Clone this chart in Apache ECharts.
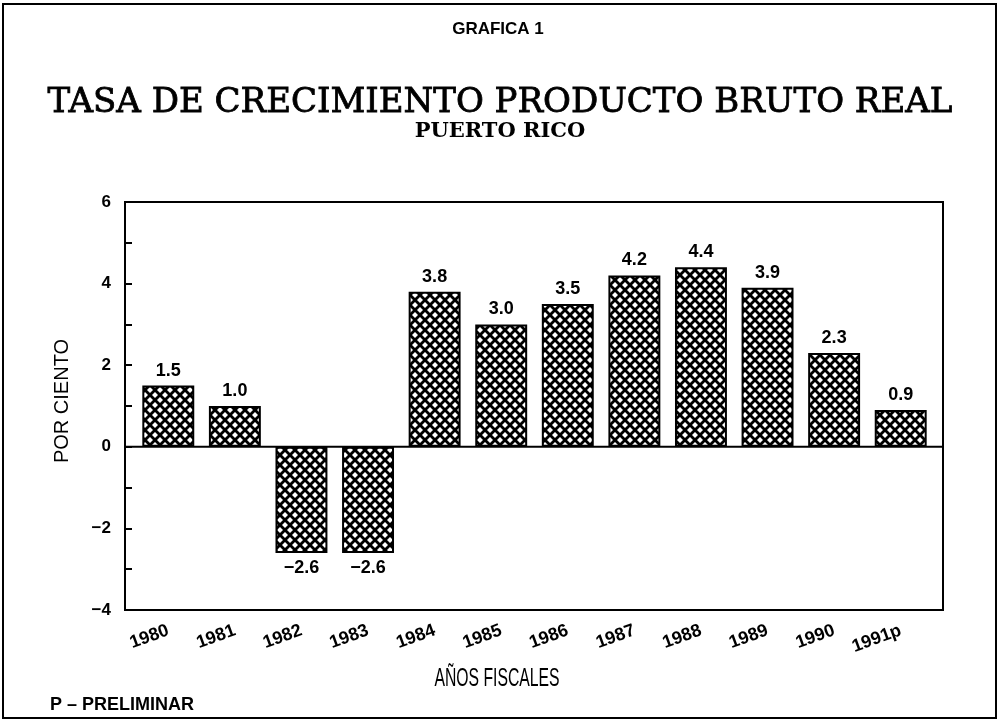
<!DOCTYPE html>
<html>
<head>
<meta charset="utf-8">
<script src="https://cdn.jsdelivr.net/npm/echarts@6/dist/echarts.min.js"></script>
<style>
  html, body { margin: 0; padding: 0; background: #fff; }
  #chart { width: 999px; height: 723px; }
</style>
</head>
<body>
<div id="chart"></div>
<script>
// datos
const years = ['1980', '1981', '1982', '1983', '1984', '1985', '1986', '1987', '1988', '1989', '1990', '1991P'];
const growth = [1.5, 1.0, -2.6, -2.6, 3.8, 3.0, 3.5, 4.2, 4.4, 3.9, 2.3, 0.9];
const yTicks = [-4, -2, 0, 2, 4, 6];

// trama cruzada (malla negra con rombos blancos)
function makeHatch() {
  const c = document.createElement('canvas');
  c.width = 10; c.height = 10;
  const g = c.getContext('2d');
  g.fillStyle = '#000';
  g.fillRect(0, 0, 10, 10);
  g.fillStyle = '#fff';
  [[5, 5], [0, 0], [10, 0], [0, 10], [10, 10]].forEach(([cx, cy]) => {
    const r = 3.0;
    g.beginPath();
    g.moveTo(cx, cy - r);
    g.lineTo(cx + r, cy);
    g.lineTo(cx, cy + r);
    g.lineTo(cx - r, cy);
    g.closePath();
    g.fill();
  });
  return c;
}

const fmtNum = v => (v < 0 ? '\u2212' + Math.abs(v).toFixed(1) : v.toFixed(1));

function txt(text, x, y, font, extra, align) {
  return Object.assign({
    type: 'text', x: x, y: y, silent: true,
    style: { text: text, fill: '#000', font: font, textAlign: align || 'center', textVerticalAlign: 'middle' }
  }, extra || {});
}

const yMin = yTicks[0], yMax = yTicks[yTicks.length - 1];
const mainTitle = 'TASA DE CRECIMIENTO PRODUCTO BRUTO REAL';

const chart = echarts.init(document.getElementById('chart'));

chart.setOption({
  backgroundColor: '#fff',
  animation: false,
  graphic: [
    { type: 'rect', shape: { x: 3, y: 4, width: 993, height: 714 },
      style: { fill: 'none', stroke: '#000', lineWidth: 2 }, silent: true },
    txt('GRAFICA 1', 498, 29, 'bold 17px "Liberation Sans"'),
    txt(mainTitle, 500, 103, '', {
      style: { text: mainTitle, fill: '#000', font: '34px "DejaVu Serif"',
        textAlign: 'center', textVerticalAlign: 'middle', stroke: '#000', lineWidth: 0.8 } }),
    txt('PUERTO RICO', 500, 132, 'bold 21px "DejaVu Serif"'),
    txt('AÑOS FISCALES', 497, 679, '25px "Liberation Sans"', { scaleX: 0.63 }),
    txt('P \u2013 PRELIMINAR', 50, 705, 'bold 18px "Liberation Sans"', null, 'left'),
    txt('POR CIENTO', 62, 401, '20px "Liberation Sans"', { rotation: Math.PI / 2 })
  ],
  grid: [
    // marco y eje vertical
    { left: 125, right: 56, top: 202, bottom: 113,
      show: true, borderColor: '#000', borderWidth: 2, backgroundColor: 'transparent' },
    // barras
    { left: 135, right: 65, top: 202, bottom: 113 }
  ],
  xAxis: [
    { gridIndex: 0, type: 'value', min: 0, max: 1, show: false },
    {
      gridIndex: 1,
      type: 'category',
      data: years,
      axisLine: { show: false },
      axisTick: { show: false },
      axisLabel: {
        interval: 0, rotate: 20, margin: 20, color: '#000',
        fontFamily: 'Liberation Sans', fontWeight: 'bold', fontSize: 18,
        formatter: v => v.replace('P', 'p')
      },
      splitLine: { show: false }
    }
  ],
  yAxis: [
    {
      gridIndex: 0,
      type: 'value',
      min: yMin, max: yMax, interval: 1,
      axisLine: { show: true, lineStyle: { color: '#000', width: 2 } },
      axisTick: { show: true, inside: true, length: 7, lineStyle: { color: '#000', width: 2 } },
      axisLabel: {
        margin: 14, color: '#000', fontFamily: 'Liberation Sans', fontWeight: 'bold', fontSize: 17,
        formatter: v => (yTicks.indexOf(v) >= 0 ? (v < 0 ? '\u2212' + Math.abs(v) : String(v)) : '')
      },
      splitLine: { show: false }
    },
    { gridIndex: 1, type: 'value', min: yMin, max: yMax, interval: 1, show: false, splitLine: { show: false } }
  ],
  series: [
    {
      // linea de cero a todo lo ancho del marco
      type: 'line', xAxisIndex: 0, yAxisIndex: 0,
      data: [[0, 0], [1, 0]],
      symbol: 'none', silent: true,
      lineStyle: { color: '#000', width: 2 }
    },
    {
      type: 'bar', xAxisIndex: 1, yAxisIndex: 1,
      barWidth: '78%',
      data: growth.map(v => ({
        value: v,
        label: { position: v < 0 ? 'bottom' : 'top' }
      })),
      itemStyle: {
        color: { image: makeHatch(), repeat: 'repeat' },
        borderColor: '#000', borderWidth: 2
      },
      label: {
        show: true, distance: 6, color: '#000',
        fontFamily: 'Liberation Sans', fontWeight: 'bold', fontSize: 18,
        formatter: p => fmtNum(p.value)
      }
    }
  ]
});
</script>
</body>
</html>
